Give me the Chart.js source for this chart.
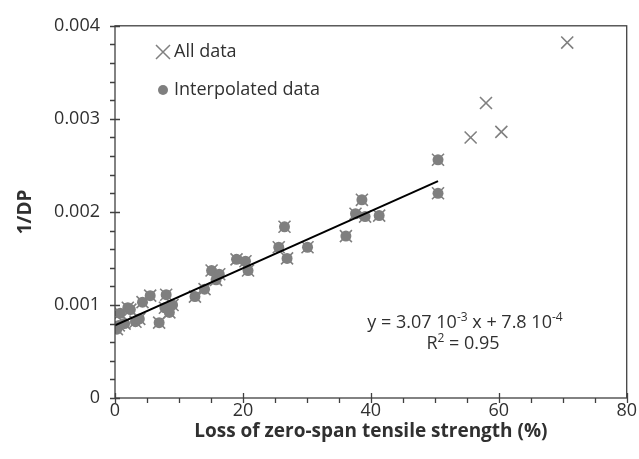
<!DOCTYPE html>
<html>
<head>
<meta charset="utf-8">
<script src="https://cdn.jsdelivr.net/npm/chart.js@4"></script>
<style>
  html, body { margin: 0; padding: 0; background: #fff; }
  #wrap { width: 639px; height: 459px; position: relative; }
</style>
</head>
<body>
<div id="wrap"><canvas id="c" width="639" height="459"></canvas></div>
<script>
// ---- Data ----
// Interpolated data (each is also part of "All data")
const interpX = [0.3, 0.6, 0.8, 1.5, 2.0, 2.4, 3.2, 3.8, 4.3, 5.5, 6.9, 7.8, 8.0, 8.5, 9.0,
                 12.5, 14.0, 15.1, 15.8, 16.3, 19.0, 20.4, 20.8, 25.6, 26.5, 26.9, 30.1,
                 36.1, 37.6, 38.6, 39.1, 41.3, 50.5, 50.5];
const interpY = [0.00074, 0.00078, 0.00091, 0.00080, 0.00097, 0.00095, 0.00082, 0.00085, 0.00103, 0.00110, 0.00081, 0.00097, 0.00111, 0.00092, 0.00100,
                 0.00109, 0.00117, 0.00137, 0.00127, 0.00133, 0.00149, 0.00147, 0.00137, 0.00162, 0.00184, 0.00150, 0.00162,
                 0.00174, 0.00198, 0.00213, 0.00195, 0.00196, 0.00256, 0.00220];
// Points present only in "All data"
const extraX = [55.6, 58.0, 60.4, 70.7];
const extraY = [0.00280, 0.00317, 0.00286, 0.00382];
// Linear fit shown on chart
const trendSlope = 3.07e-5;
const trendIntercept = 7.8e-4;
const eqLine1 = [['y = 3.07 10', false], ['-3', true], [' x + 7.8 10', false], ['-4', true]];
const eqLine2 = [['R', false], ['2', true], [' = 0.95', false]];
// Axes
const xTicks = [0, 20, 40, 60, 80];
const yTicks = [0, 0.001, 0.002, 0.003, 0.004];
const xTitle = 'Loss of zero-span tensile strength (%)';
const yTitle = '1/DP';
const legendLabels = ['All data', 'Interpolated data'];

const FONT = "'Open Sans', 'Liberation Sans', sans-serif";
const TXT = '#303030';
const AXC = '#404040';

const toPts = (xs, ys) => xs.map((x, i) => ({x, y: ys[i]}));
const allPts = toPts(interpX.concat(extraX), interpY.concat(extraY));
const interpPts = toPts(interpX, interpY);
const xMaxFit = Math.max(...interpX);
const trendPts = [0, xMaxFit].map(x => ({x, y: trendSlope * x + trendIntercept}));

const decor = {
  id: 'decor',
  afterDatasetsDraw(chart) {
    const {ctx, chartArea: {left, right, top, bottom}, scales: {x, y}} = chart;
    ctx.save();
    ctx.strokeStyle = AXC;
    ctx.lineWidth = 1.3;
    ctx.strokeRect(left, top, right - left, bottom - top);
    ctx.beginPath();
    for (let v = 0; v <= 80; v += 5) {
      const px = Math.round(x.getPixelForValue(v)) + 0.5;
      if (v % 20 === 0) { ctx.moveTo(px, bottom - 5); ctx.lineTo(px, bottom + 5); }
      else { ctx.moveTo(px, bottom); ctx.lineTo(px, bottom + 5); }
    }
    for (let k = 0; k <= 20; k++) {
      const py = Math.round(y.getPixelForValue(k * 0.0002)) + 0.5;
      if (k % 5 === 0) { ctx.moveTo(left - 5, py); ctx.lineTo(left + 5, py); }
      else { ctx.moveTo(left - 5, py); ctx.lineTo(left, py); }
    }
    ctx.stroke();

    // legend
    const lx = 163, ly1 = 52, ly2 = 90;
    ctx.strokeStyle = '#808080';
    ctx.lineWidth = 1.5;
    ctx.beginPath();
    const r = 7;
    ctx.moveTo(lx - r, ly1 - r); ctx.lineTo(lx + r, ly1 + r);
    ctx.moveTo(lx - r, ly1 + r); ctx.lineTo(lx + r, ly1 - r);
    ctx.stroke();
    ctx.fillStyle = '#7f7f7f';
    ctx.beginPath(); ctx.arc(lx, ly2, 5, 0, Math.PI * 2); ctx.fill();
    ctx.fillStyle = TXT;
    ctx.font = '18px ' + FONT;
    ctx.textBaseline = 'middle';
    ctx.textAlign = 'left';
    ctx.fillText(legendLabels[0], 174, ly1);
    ctx.fillText(legendLabels[1], 174, ly2);

    // equation
    const drawRich = (segs, cx, cy) => {
      let w = 0;
      segs.forEach(([t, sup]) => { ctx.font = (sup ? '12px ' : '18px ') + FONT; w += ctx.measureText(t).width; });
      let xx = cx - w / 2;
      segs.forEach(([t, sup]) => {
        ctx.font = (sup ? '12px ' : '18px ') + FONT;
        ctx.fillText(t, xx, sup ? cy - 5 : cy);
        xx += ctx.measureText(t).width;
      });
    };
    drawRich(eqLine1, 465, 323);
    drawRich(eqLine2, 463, 344);
    ctx.restore();
  }
};

new Chart(document.getElementById('c'), {
  type: 'scatter',
  data: {
    datasets: [
      { label: 'fit', type: 'line', data: trendPts, borderColor: '#000', borderWidth: 2,
        pointRadius: 0, fill: false, order: 0 },
      { label: legendLabels[1], data: interpPts, pointStyle: 'circle', pointRadius: 5.5,
        backgroundColor: '#7f7f7f', borderWidth: 0, order: 1 },
      { label: legendLabels[0], data: allPts, pointStyle: 'crossRot', pointRadius: 8.5,
        borderColor: '#808080', borderWidth: 1.6, order: 2 }
    ]
  },
  options: {
    responsive: false,
    animation: false,
    events: [],
    layout: { padding: { left: 0, top: 20, right: 12, bottom: 0 } },
    plugins: { legend: { display: false }, tooltip: { enabled: false } },
    scales: {
      x: {
        type: 'linear', min: 0, max: 80,
        afterBuildTicks: s => { s.ticks = xTicks.map(v => ({value: v})); },
        afterFit: s => { s.height = 61; },
        grid: { display: false, drawTicks: false },
        border: { display: false },
        ticks: { padding: 2, color: TXT, font: { family: FONT, size: 18 } },
        title: { display: true, text: xTitle, color: TXT, padding: { top: 0, bottom: 16 },
                 font: { family: FONT, size: 19, weight: 'bold' } }
      },
      y: {
        type: 'linear', min: 0, max: 0.004,
        afterBuildTicks: s => { s.ticks = yTicks.map(v => ({value: v})); },
        afterFit: s => { s.width = 115; },
        grid: { display: false, drawTicks: false },
        border: { display: false },
        ticks: { padding: 15, color: TXT, font: { family: FONT, size: 18 },
                 callback: v => v === 0 ? '0' : v.toFixed(3) },
        title: { display: true, text: yTitle, color: TXT, padding: { top: 14, bottom: 0 },
                 font: { family: FONT, size: 19, weight: 'bold' } }
      }
    }
  },
  plugins: [decor]
});
</script>
</body>
</html>
